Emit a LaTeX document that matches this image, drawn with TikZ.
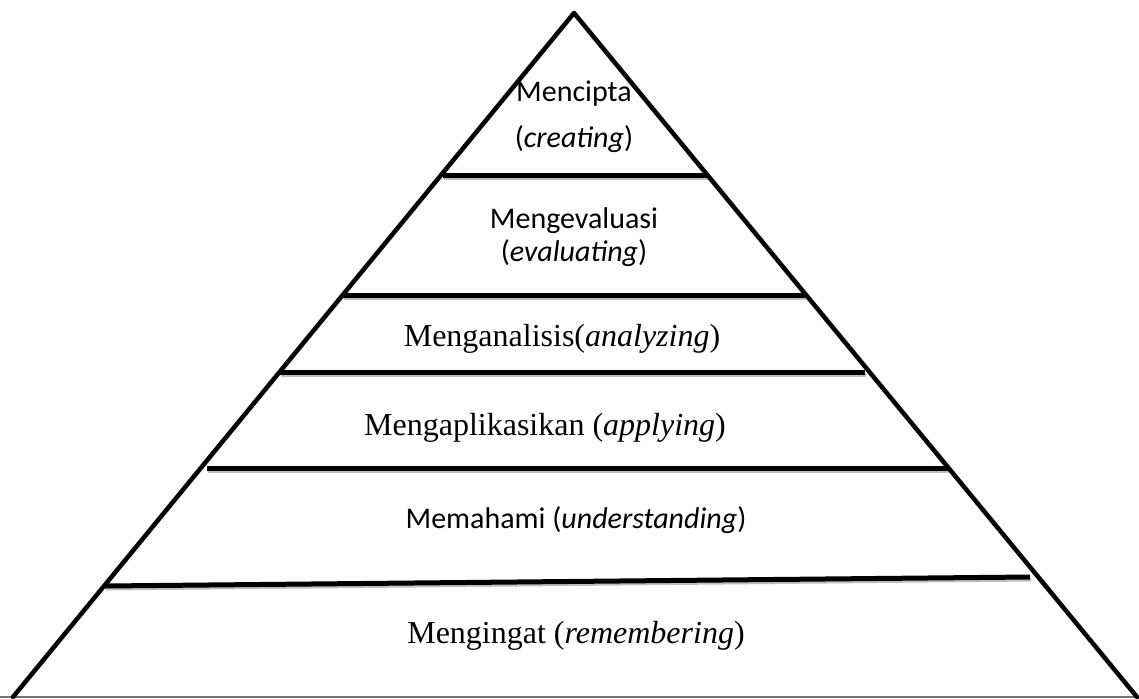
\documentclass[tikz,border=0pt]{standalone}
\usepackage{fontspec}
\setmainfont{Liberation Serif}
\newfontfamily\calib{Carlito}
\begin{document}
\begin{tikzpicture}[x=1pt,y=-1pt,
  edge/.style={line width=4.5pt,line cap=round,line join=round},
  tier/.style={line width=5pt},
  tiershadow/.style={line width=3pt,draw=black!25},
  base/.style={line width=2pt,draw=black!55},
  sanslabel/.style={font=\calib\fontsize{30}{36}\selectfont,anchor=base,inner sep=0pt},
  seriflabel/.style={font=\fontsize{32}{38}\selectfont,anchor=base,inner sep=0pt}]
\useasboundingbox (0,0) rectangle (1139,698);
% triangle corners
\coordinate (apex) at (574,13);
\coordinate (bl) at (13,697);
\coordinate (br) at (1137,697);
\coordinate (b0) at (0,697);
\coordinate (b1) at (1139,697);
% tier line end points
\coordinate (l1) at (443,175); \coordinate (r1) at (707,175);
\coordinate (l2) at (343,295); \coordinate (r2) at (805,295);
\coordinate (l3) at (280,372); \coordinate (r3) at (865,372);
\coordinate (l4) at (207,468); \coordinate (r4) at (948,468);
\coordinate (l5) at (105,586); \coordinate (r5) at (1030,577);
% shadows
\foreach \i in {1,...,5} {
  \draw[tiershadow] ([shift={(1,3)}]l\i) -- ([shift={(1,3)}]r\i);
}
% base
\draw[base] (b0) -- (b1);
% tier lines
\foreach \i in {1,...,5} {
  \draw[tier] (l\i) -- (r\i);
}
% triangle sides
\draw[edge] (bl) -- (apex) -- (br);
% labels
\node[sanslabel] (t1a) at (574,102) {Mencipta};
\node[sanslabel] (t1b) at (574,147) {(\textit{creating})};
\node[sanslabel] (t2a) at (574,228) {Mengevaluasi};
\node[sanslabel] (t2b) at (574,261) {(\textit{evaluating})};
\node[seriflabel] (t3) at (562,346) {Menganalisis(\textit{analyzing})};
\node[seriflabel] (t4) at (545,435) {Mengaplikasikan (\textit{applying})};
\node[sanslabel] (t5) at (576,528) {Memahami (\textit{understanding})};
\node[seriflabel] (t6) at (576,643) {Mengingat (\textit{remembering})};
\end{tikzpicture}
\end{document}
